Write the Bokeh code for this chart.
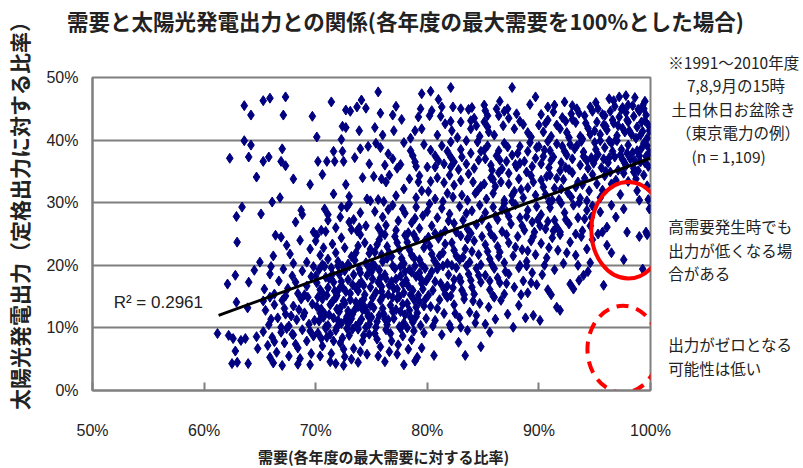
import math
from bokeh.plotting import figure
from bokeh.models import Label, FixedTicker, PrintfTickFormatter, ColumnDataSource
from bokeh.embed import file_html
from bokeh.resources import INLINE

# ---------------- data (demand %, solar output %) ----------------
pts_45_50 = [(63.6,45.5),(65.3,46.3),(65.9,46.7),(67.3,46.9),(71.4,46.1),(74.1,46.4),(74.5,45.1),(73.7,45.3),
    (75.6,47.7),(79.5,47.4),(80.3,47.8),(82.1,48.4),(81.0,46.5),(81.3,45.3),(79.4,45.0),(82.3,45.3),(83.0,45.0),
    (85.1,45.6),(87.2,45.0),(87.6,48.4),(89.7,46.9),(89.2,45.7),(93.0,45.5),(93.4,45.0),(94.6,45.3),(96.3,46.6),
    (97.2,46.9),(97.8,47.1),(96.7,46.3),(99.3,45.5),(98.6,46.8),(99.5,46.2),(92.3,46.1),(95.1,46.0),(98.0,45.6),
    (86.5,46.2),(84.0,45.2),(77.2,45.4),(90.8,45.3),(97.5,45.2)]

pts_40_45 = [(64.2,44.0),(67.1,44.0),(69.7,43.8),(72.7,44.8),(73.1,44.6),(72.4,42.2),(72.7,42.0),(73.9,41.5),
    (70.1,40.5),(72.3,40.1),(80.4,44.7),(76.9,44.0),(77.7,43.3),(79.2,43.7),(80.2,43.9),(83.7,44.9),(82.1,43.0),
    (83.0,42.9),(83.9,43.1),(85.2,44.7),(85.4,43.9),(86.4,43.9),(86.9,44.6),(84.2,43.5),(84.4,42.3),(83.9,41.8),
    (85.1,42.9),(85.4,42.1),(85.5,41.3),(78.9,41.5),(79.5,41.8),(78.5,40.3),(82.2,41.5),(88.0,44.2),(88.3,43.0),
    (87.8,41.8),(88.6,42.5),(89.0,41.2),(89.3,40.5),
    (90.2,44.1),(90.8,43.2),(91.3,44.5),(91.6,42.4),(92.1,43.6),(92.5,41.2),(92.9,44.2),(93.3,42.8),(93.7,40.6),
    (94.1,43.9),(94.4,41.9),(94.8,44.6),(95.2,42.9),(95.5,40.9),(95.9,43.9),(96.1,41.6),(96.4,44.6),(96.7,42.7),
    (97.0,40.7),(97.2,43.7),(97.5,41.9),(97.8,44.4),(98.0,42.9),(98.3,40.9),(98.5,43.8),(98.8,42.1),(99.0,44.6),
    (99.3,41.4),(99.5,43.1),(99.8,42.4),(99.7,40.3),(90.4,41.3),(91.1,40.6),(93.9,40.2),(95.7,44.1),(96.9,40.1),
    (98.9,44.9),(94.2,42.7),(92.7,40.4),(97.7,41.3),(96.0,42.2),(98.1,41.5),(99.1,40.8),(95.0,41.5),(93.0,43.3),
    (91.9,41.8),(90.6,42.7),(97.4,44.9),(99.6,44.0),(96.6,43.2),
    (75.3,42.0),(76.0,40.8),(77.0,41.5),(75.8,44.3),(80.9,40.8),(81.6,42.6),(82.7,40.4),(81.2,43.8),(84.7,40.6),
    (86.0,40.8),(86.8,42.3),(87.3,43.5),(86.2,45.0)]

pts_35_40 = [(63.6,39.9),(64.2,39.2),(67.0,38.6),(62.3,37.1),(64.0,37.3),(65.3,36.6),(65.8,37.3),(66.9,36.6),
    (67.3,35.9),(70.2,36.6),(71.0,36.6),(71.7,36.6),(72.5,36.6),(73.5,37.2),(71.6,38.2),(72.4,38.2),(74.0,38.6),
    (74.7,39.0),(74.8,36.2),
    (76.5,37.8),(78.5,38.3),(78.7,37.5),(77.6,36.1),(77.3,35.5),(79.7,39.3),(75.4,39.5),(76.2,36.0),(79.0,35.8),
    (75.8,38.8),(77.9,39.6),(78.9,36.5),(76.9,37.0),
    (80.7,37.5),(81.0,36.7),(80.7,35.7),(81.5,36.2),(82.1,37.3),(82.1,35.7),(82.4,36.5),(80.0,35.7),(82.1,39.7),
    (81.3,39.1),(83.5,39.9),(84.5,39.7),(83.1,37.3),(83.5,36.2),(83.9,37.9),(84.2,35.5),(84.6,36.8),(83.0,38.5),
    (80.3,38.4),(81.8,38.2),(84.8,38.2),(82.8,35.3),
    (85.4,39.1),(86.4,38.3),(87.2,38.9),(85.2,37.0),(85.7,36.0),(86.2,37.5),(86.7,35.4),(87.1,36.6),(87.6,37.6),
    (88.0,35.7),(88.3,39.0),(88.7,36.6),(89.0,38.2),(89.4,35.8),(89.7,37.1),(85.8,35.2),(86.9,39.5),(88.1,37.9),
    (89.2,39.6),(87.9,36.1),(85.1,38.4),(86.5,36.8),(89.8,38.8),
    (90.2,36.2),(90.5,38.4),(90.9,35.6),(91.3,37.3),(91.6,39.4),(92.0,36.4),(92.3,38.2),(92.7,35.3),(93.0,37.0),
    (93.4,39.1),(93.7,36.0),(94.0,38.1),(94.4,35.5),(94.7,37.2),(95.0,39.6),(90.8,39.8),(91.9,35.1),(93.2,38.6),
    (94.3,36.7),(92.5,37.6),(90.4,37.4),(94.9,36.3),(91.1,36.8),(93.8,39.8),(92.8,39.3),
    (95.3,37.7),(95.6,35.6),(95.9,38.8),(96.2,36.4),(96.5,39.5),(96.8,37.3),(97.1,35.2),(97.4,38.5),(97.7,36.3),
    (98.0,39.2),(98.2,37.0),(98.5,35.5),(98.8,38.3),(99.1,36.5),(99.4,39.5),(99.6,37.4),(99.8,35.8),(95.5,39.9),
    (96.0,35.0),(97.0,39.9),(97.9,37.9),(98.6,36.7),(99.2,38.7),(96.6,38.2),(95.8,37.0),(99.7,39.1),(97.5,36.9),
    (98.9,35.1)]

pts_30_35 = [(64.7,34.1),(66.1,30.1),(66.8,30.8),(69.5,32.9),(72.7,32.9),(71.6,31.4),(74.2,34.0),(74.6,30.6),
    (68.0,33.8),(70.6,34.5),(73.0,31.0),
    (75.2,34.2),(75.9,33.8),(76.3,33.3),(76.6,34.4),(77.9,32.2),(79.3,34.3),(79.2,33.3),(79.5,31.9),(74.9,30.3),
    (75.6,30.5),(76.1,30.2),(79.0,30.8),(77.2,31.1),(78.4,33.8),
    (80.3,33.4),(80.9,34.0),(81.5,33.2),(82.0,34.4),(82.4,32.8),(83.0,33.6),(83.7,34.6),(84.1,33.3),(84.5,31.9),
    (84.8,32.6),(84.3,31.5),(80.7,30.6),(81.4,30.2),(82.3,30.9),(83.1,31.2),(80.1,31.8),(81.8,31.5),(83.6,30.4),
    (85.7,34.0),(86.1,32.6),(86.6,33.3),(85.9,31.5),(87.3,33.0),(87.3,34.7),(87.8,31.8),(88.2,33.8),(88.6,30.8),
    (89.0,32.4),(89.3,34.3),(89.7,31.2),(85.3,30.6),(86.9,30.4),(88.4,32.1),(89.5,33.3),(86.4,34.8),(87.6,30.2),
    (85.1,33.0),(88.9,34.9),
    (90.2,33.6),(90.6,31.3),(91.0,34.4),(91.4,32.3),(91.8,30.5),(92.2,33.7),(92.6,31.6),(93.0,34.8),(93.3,32.5),
    (93.7,30.7),(94.1,33.9),(94.5,31.9),(94.8,34.5),(90.9,30.2),(92.0,32.2),(93.9,32.9),(94.3,30.3),(91.6,33.9),
    (92.9,30.9),(90.4,32.5),
    (95.2,33.0),(95.5,30.8),(95.9,34.3),(96.9,33.6),(97.6,34.7),(98.7,33.8),(99.4,34.4),(99.7,32.7),(95.7,32.0),
    (96.4,34.9),(98.5,34.9),(99.0,30.4),(97.3,31.3),(98.8,31.9),(99.8,30.5)]

pts_25_30 = [(63.4,29.3),(62.9,27.8),(65.1,28.2),(68.7,28.8),(68.8,28.1),(68.2,26.9),(71.1,28.1),(71.1,27.2),
    (72.2,27.7),(72.3,29.3),(73.0,29.8),(72.8,29.3),(73.0,26.9),(73.4,27.3),
    (70.5,25.6),(71.8,26.0),(74.0,28.4),(74.5,26.3),(69.8,25.3),(73.7,25.5),(70.8,29.0),
    (75.3,28.6),(75.6,26.0),(76.0,27.7),(76.5,28.9),(77.2,25.6),(77.4,27.1),(78.0,28.3),(78.3,25.2),(78.6,26.8),
    (79.0,29.3),(79.6,27.9),(79.3,25.9),(76.9,29.6),(75.9,25.1),(77.8,29.0),(78.9,27.5),(76.3,26.4),
    (80.0,28.6),(80.4,26.3),(80.9,27.6),(81.3,29.1),(81.6,25.5),(82.0,28.2),(82.4,26.7),(82.9,29.4),(83.2,27.2),
    (83.6,25.8),(84.0,28.7),(84.4,26.5),(84.7,29.6),(80.7,25.1),(81.9,27.1),(83.5,28.3),(84.9,27.3),(82.6,25.3),
    (80.2,29.8),(83.9,25.1),
    (85.2,28.4),(85.5,26.1),(85.9,29.3),(86.3,27.3),(86.7,25.4),(87.1,28.6),(87.5,26.6),(87.9,29.7),(88.3,27.6),
    (88.7,25.6),(89.0,28.8),(89.4,26.9),(89.8,29.4),(85.7,25.0),(86.9,29.9),(88.5,26.3),(89.6,25.3),(87.3,27.8),
    (86.1,27.9),(88.9,27.8),
    (90.2,28.1),(90.6,25.8),(91.0,29.2),(91.4,27.2),(91.9,25.3),(92.3,28.4),(92.7,26.6),(93.1,29.6),(93.5,27.6),
    (93.9,25.5),(94.3,28.8),(94.6,26.3),(90.8,27.0),(92.0,29.9),(93.3,25.0),(94.8,29.5),(91.6,26.1),(94.1,27.4),
    (95.3,25.0),(96.1,26.1),(95.7,25.3),(96.9,27.7),(97.6,29.0),(99.9,29.0),(97.9,25.3),(99.6,25.3),(95.5,28.5),
    (96.5,29.6)]

pts_20_25 = [(62.96,23.7),(65.0,20.5),(66.4,24.8),(66.9,24.5),(67.4,23.2),(67.7,21.8),(69.2,20.5),(68.6,24.0),
    (69.5,22.6),(68.0,20.3),(66.2,21.5),
    (70.1,24.8),(70.9,25.4),(70.0,23.9),(70.7,22.8),(71.5,23.4),(72.3,24.4),(73.2,25.7),(73.9,26.0),(72.6,22.8),
    (73.8,23.1),(74.4,23.6),(71.1,21.0),(72.0,20.6),(73.2,21.4),(74.5,20.4),(70.4,21.6),(74.0,24.9),(71.8,22.0),
    (72.9,20.2),(73.6,22.0),(70.6,20.1),(74.8,21.9),
    (75.3,22.1),(75.7,24.1),(76.0,20.6),(76.4,23.0),(76.8,21.4),(77.1,24.6),(77.5,22.5),(77.9,20.3),(78.2,23.7),
    (78.6,21.6),(79.0,24.2),(79.3,20.9),(79.7,22.8),(75.1,20.2),(76.2,24.9),(77.7,21.1),(78.8,24.9),(79.5,20.1),
    (76.6,22.0),(78.4,22.5),(75.9,21.7),(77.3,23.6),(79.8,23.9),(75.5,23.3),(78.0,24.8),
    (80.2,23.1),(80.6,20.8),(81.0,24.3),(81.4,22.0),(81.8,20.3),(82.2,23.6),(82.6,21.5),(83.0,24.7),(83.4,22.6),
    (83.8,20.5),(84.2,23.9),(84.6,21.7),(80.4,21.8),(81.6,23.4),(82.9,20.9),(84.0,22.2),(80.9,20.0),(83.6,24.2),
    (84.9,24.6),(81.2,24.9),(82.4,22.4),(84.8,20.1),(80.1,24.5),(83.2,21.3),
    (85.2,23.3),(85.6,21.0),(86.0,24.4),(86.5,22.1),(86.9,20.4),(87.3,23.6),(87.7,21.5),(88.1,24.6),(88.5,22.5),
    (88.9,20.6),(89.3,23.9),(89.7,21.7),(85.8,20.1),(87.1,24.9),(88.3,20.0),(89.5,24.6),(86.3,23.0),(87.9,22.9),
    (85.4,22.2),(89.0,22.3),
    (90.2,23.5),(90.7,21.2),(91.2,24.4),(91.7,22.4),(92.2,20.3),(92.8,23.7),(93.3,21.6),(93.8,24.6),(94.3,22.6),
    (94.6,20.4),(90.5,20.0),(91.9,24.9),(93.5,20.0),(94.8,24.1),(90.9,22.8),(92.5,22.0),
    (96.1,23.2),(96.5,22.0),(97.6,20.9),(99.0,24.6),(99.7,24.9)]

pts_15_20 = [(62.1,17.0),(64.0,17.3),(64.5,19.2),(68.2,17.3),(62.8,18.4),
    (65.4,16.2),(65.9,18.6),(66.3,15.4),(66.7,17.5),(67.1,19.4),(67.5,16.3),(67.9,18.3),(68.4,15.5),(68.8,19.1),
    (69.2,16.7),(69.6,18.2),(66.0,19.8),(67.3,15.1),(69.0,15.3),(69.8,19.8),
    (70.1,17.2),(70.3,19.3),(70.6,15.6),(70.9,18.1),(71.1,16.4),(71.4,19.6),(71.6,17.3),(71.9,15.2),(72.1,18.6),
    (72.4,16.5),(72.6,19.1),(72.9,17.7),(73.1,15.5),(73.4,18.5),(73.6,16.4),(73.9,19.4),(74.1,17.3),(74.4,15.3),
    (74.6,18.4),(74.9,16.5),(70.4,16.1),(71.2,17.9),(72.0,19.9),(72.7,15.8),(73.3,16.9),(74.0,18.8),(74.7,19.8),
    (70.8,19.8),(71.7,15.9),(73.8,15.9),(72.3,17.4),(70.0,18.3),(74.3,16.8),(71.5,18.6),(73.0,19.9),
    (75.1,17.8),(75.4,15.7),(75.7,19.2),(75.9,16.6),(76.2,18.5),(76.5,15.3),(76.8,17.4),(77.1,19.5),(77.3,16.2),
    (77.6,18.3),(77.9,15.6),(78.1,17.6),(78.4,19.3),(78.7,16.0),(79.0,18.2),(79.2,15.2),(79.5,17.1),(79.8,19.5),
    (75.3,19.9),(76.0,15.0),(76.6,16.8),(77.5,15.0),(78.3,16.7),(78.9,19.9),(79.6,16.2),(75.6,17.3),(76.9,19.9),
    (77.8,17.0),(78.6,18.9),(79.3,18.8),(76.3,17.9),(77.2,17.8),(75.8,18.0),(78.0,19.0),(79.9,17.5),
    (80.2,18.3),(80.5,16.0),(80.9,19.4),(81.2,17.1),(81.6,15.4),(81.9,18.5),(82.3,16.4),(82.6,19.6),(83.0,17.4),
    (83.3,15.3),(83.7,18.6),(84.0,16.5),(84.4,19.5),(84.8,17.3),(80.7,17.4),(81.4,19.9),(82.1,15.1),(82.9,18.0),
    (83.5,19.9),(84.2,15.4),(84.6,18.4),(80.1,15.2),(81.8,16.7),(83.9,17.6),(82.4,17.7),
    (85.2,18.4),(85.6,16.1),(86.0,19.5),(86.5,17.2),(86.9,15.4),(87.3,18.6),(87.8,16.5),(88.2,19.6),(88.6,17.5),
    (89.0,15.6),(89.4,18.8),(89.8,16.9),(85.9,15.1),(87.1,17.1),(88.4,15.3),(89.3,17.2),(86.3,18.0),(88.9,19.9),
    (90.3,18.5),(90.8,16.1),(91.4,19.3),(92.8,17.0),(93.6,17.6),(93.1,16.2),(94.4,19.0),(91.1,15.3),(94.0,18.4),
    (95.8,16.8),(99.3,19.4)]

pts_10_15 = [(62.9,14.1),(63.9,13.2),(65.9,14.9),(66.0,11.4),
    (65.5,12.8),(65.8,10.5),(66.3,13.7),(66.6,11.6),(67.0,14.4),(67.3,12.2),(67.6,10.3),(68.0,13.5),(68.3,11.3),
    (68.7,14.6),(69.0,12.4),(69.4,10.6),(69.7,13.8),(66.9,10.1),(68.5,12.9),(69.3,14.9),(67.8,11.9),(65.3,14.3),
    (69.9,11.2),(67.2,13.1),
    (70.1,13.4),(70.3,11.1),(70.6,14.6),(70.8,12.3),(71.1,10.4),(71.3,13.7),(71.6,11.6),(71.8,14.8),(72.1,12.6),
    (72.3,10.7),(72.6,13.9),(72.8,11.8),(73.1,14.5),(73.3,12.2),(73.6,10.3),(73.8,13.4),(74.1,11.4),(74.3,14.6),
    (74.6,12.5),(74.8,10.6),(70.4,12.4),(70.9,10.2),(71.5,14.2),(72.0,11.2),(72.5,14.3),(73.0,10.9),(73.5,12.9),
    (74.0,14.0),(74.5,10.1),(74.9,13.6),(70.2,14.9),(71.2,12.1),(72.2,13.2),(73.2,11.5),(74.2,12.9),(71.9,10.1),
    (73.9,10.8),(70.7,11.7),(72.9,12.7),(74.7,11.9),
    (75.2,13.2),(75.5,11.0),(75.8,14.4),(76.1,12.2),(76.4,10.5),(76.7,13.6),(77.0,11.5),(77.3,14.7),(77.6,12.6),
    (77.9,10.8),(78.2,13.9),(78.5,11.7),(78.8,14.5),(79.1,12.4),(79.4,10.4),(79.7,13.5),(75.4,10.1),(76.0,13.1),
    (76.9,14.9),(77.5,10.2),(78.0,12.1),(78.7,10.9),(79.3,14.2),(79.9,11.5),(75.7,12.0),(76.5,11.3),(77.2,12.9),
    (78.4,12.8),(79.0,13.3),(75.1,14.8),
    (80.3,13.4),(80.7,11.2),(81.1,14.5),(81.5,12.3),(82.0,10.5),(82.4,13.7),(82.9,11.6),(83.3,14.6),(83.8,12.5),
    (84.3,10.8),(84.7,13.9),(80.5,10.3),(81.8,14.9),(83.0,10.1),(84.1,14.3),
    (85.5,13.3),(86.1,11.4),(86.6,14.4),(87.2,12.2),(87.7,10.1),(88.2,13.6),(88.8,11.6),(89.5,12.0),(86.0,14.9),
    (85.2,10.6),
    (90.1,11.2),(91.9,12.8),(91.6,13.3)]

pts_05_10 = [(61.2,9.1),(62.2,8.8),(62.6,8.3),(63.3,8.0),(63.7,8.3),(62.8,6.3),(64.7,8.6),(64.8,6.7),
    (65.3,9.4),(65.7,7.2),(66.1,8.5),(66.5,6.1),(66.9,9.3),(67.2,7.6),(67.6,5.5),(68.0,8.9),(68.4,6.8),(68.8,9.7),
    (69.2,7.9),(69.6,5.9),(65.9,5.3),(67.4,9.9),(68.6,5.1),(69.8,8.7),(66.3,7.8),(68.2,7.4),
    (70.2,9.2),(70.6,7.1),(71.0,8.5),(71.4,5.9),(71.8,9.6),(72.2,7.6),(72.6,5.4),(73.0,8.8),(73.4,6.7),(73.8,9.8),
    (74.2,7.9),(74.6,5.8),(70.4,5.5),(71.6,7.9),(72.8,9.9),(74.0,6.2),(74.8,9.0),(70.9,9.9),(73.2,5.0),(72.4,8.4),
    (75.3,9.1),(75.8,7.0),(76.3,9.7),(76.8,7.9),(77.3,5.8),(77.8,8.7),(78.3,6.6),(78.8,9.5),(79.1,5.3),(79.5,6.8),
    (75.6,5.5),(76.6,6.2),(77.6,9.9),(78.6,8.1),(79.7,9.2),
    (80.6,5.6),(82.1,10.0),(83.6,9.6),(82.8,7.7),(83.4,5.6),(84.8,7.0),(81.3,8.9),(85.6,9.3)]

pts_00_05 = [(62.5,4.3),(62.97,4.5),(63.95,4.3),(66.2,4.4),(67.0,4.0),(68.4,4.2),(69.5,4.1),(71.3,4.6),
    (71.8,4.3),(72.5,4.0),(73.8,4.5),(76.2,4.6),(77.9,4.1),(78.9,4.7)]

pts_dense_low = [(67.9,9.0),(68.9,11.9),(69.5,9.5),(70.5,8.3),(70.5,13.0),(71.0,15.2),(71.3,9.0),(71.9,13.0),
    (72.1,16.2),(72.5,6.6),(72.7,11.3),(73.3,9.8),(73.6,14.1),(73.9,17.0),(74.3,8.8),(74.4,13.3),(75.0,11.7),
    (75.0,19.0),(75.5,8.2),(75.9,15.8),(76.2,11.4),(76.7,9.1),(76.9,12.6),(77.0,16.3),(77.4,7.3),(77.8,13.8),
    (78.2,10.0),(78.5,15.3),(79.0,11.8),(79.4,17.9),(79.8,14.5),(72.4,19.9),(73.5,20.8),(74.9,22.6),(76.4,21.1),
    (77.6,19.8),(78.8,21.2),(80.4,19.0),(81.1,21.5),(80.9,13.1),(81.5,16.2),(82.5,12.3),(83.1,16.0),(82.2,20.0),
    (84.4,12.0),(85.6,17.5),(87.0,19.0),(86.4,21.4)]

pts_dense_high = [(90.0,42.4),(91.4,45.6),(92.4,43.0),(93.6,44.3),(94.6,40.9),(95.3,45.0),(95.8,42.4),(96.3,39.9),
    (96.8,45.4),(97.1,42.3),(97.9,43.2),(98.4,45.5),(98.7,40.3),(99.2,42.9),(99.4,45.0),(99.9,41.5),(99.9,38.0),
    (99.5,36.4),(98.4,38.0),(97.3,37.6),(96.3,37.2),(95.1,38.5),(94.0,37.4),(92.1,39.0),(91.0,38.3),(90.0,39.0),
    (90.7,34.2),(92.4,35.6),(93.5,33.3),(95.0,36.9),(96.5,33.0),(97.8,35.9),(98.0,33.4),(99.0,37.5),(89.9,27.3),
    (91.2,30.4),(92.4,27.3),(93.6,30.0),(94.7,27.7),(91.3,25.5),(90.1,26.3),(87.6,31.2),(86.7,28.9),(85.9,33.7),
    (88.3,36.3)]

bands = [pts_45_50, pts_40_45, pts_35_40, pts_30_35, pts_25_30, pts_20_25,
         pts_15_20, pts_10_15, pts_05_10, pts_00_05, pts_dense_low, pts_dense_high]
demand = [p[0] for b in bands for p in b]
solar = [p[1] for b in bands for p in b]

# regression line end points
trend_x = [61.3, 100.0]
trend_y = [12.0, 37.1]

x_ticks = [50, 60, 70, 80, 90, 100]
y_ticks = [0, 10, 20, 30, 40, 50]

# ---------------- figure ----------------
JP = "Noto Sans CJK JP"
NUM = "Liberation Sans"
GRID = "#7f7f7f"
TXT = "#222222"

p = figure(width=803, height=468, x_range=(50, 100), y_range=(0, 50),
           output_backend="svg", toolbar_location=None,
           min_border_left=92, min_border_right=153, min_border_top=77, min_border_bottom=78)
p.title.visible = False
p.background_fill_color = "white"
p.border_fill_color = "white"
p.outline_line_color = GRID
p.outline_line_width = 2

p.xaxis.ticker = FixedTicker(ticks=x_ticks)
p.yaxis.ticker = FixedTicker(ticks=y_ticks)
p.xaxis.formatter = PrintfTickFormatter(format="%d%%")
p.yaxis.formatter = PrintfTickFormatter(format="%d%%")
for ax in (p.xaxis, p.yaxis):
    ax.axis_line_color = GRID
    ax.axis_line_width = 2
    ax.major_tick_line_color = GRID
    ax.major_tick_line_width = 2
    ax.minor_tick_line_color = None
    ax.major_label_text_font = NUM
    ax.major_label_text_font_size = "16px"
    ax.major_label_text_color = TXT
p.xaxis.major_tick_in = 8
p.xaxis.major_tick_out = 0
p.xaxis.major_label_standoff = 31
p.yaxis.major_tick_in = 0
p.yaxis.major_tick_out = 0
p.yaxis.major_label_standoff = 14

p.xgrid.grid_line_color = None
p.ygrid.ticker = FixedTicker(ticks=y_ticks)
p.ygrid.grid_line_color = GRID
p.ygrid.grid_line_width = 2

src = ColumnDataSource(dict(demand=demand, solar=solar))
p.scatter("demand", "solar", source=src, marker="diamond", size=10,
          fill_color="#000080", line_color="#000080", line_width=1)

p.line(trend_x, trend_y, line_color="black", line_width=3)

# red highlight ellipses
p.ellipse(x=[98.0], y=[25.6], width=6.6, height=15.4, fill_color=None,
          line_color="#ff0000", line_width=4)
p.ellipse(x=[97.55], y=[6.6], width=6.4, height=13.9, fill_color=None,
          line_color="#ff0000", line_width=4, line_dash="12 8")

# R^2 text inside the plot area
p.add_layout(Label(x=51.9, y=14.0, text="R² = 0.2961", text_font=NUM, text_font_size="17px",
                   text_align="left", text_baseline="middle", text_color=TXT))

# texts outside the plot area live in the side panels (not clipped)
p.add_layout(Label(x=78.05, y=59.1, text="需要と太陽光発電出力との関係(各年度の最大需要を100%とした場合)",
                   text_font=JP, text_font_size="21.5px", text_font_style="bold",
                   text_align="center", text_baseline="middle", text_color=TXT), "above")
p.add_layout(Label(x=43.37, y=28.75, text="太陽光発電出力（定格出力に対する比率）", angle=math.pi / 2,
                   text_font=JP, text_font_size="21px", text_font_style="bold",
                   text_align="center", text_baseline="middle", text_color=TXT), "left")
p.add_layout(Label(x=76.08, y=-10.6, text="需要(各年度の最大需要に対する比率)",
                   text_font=JP, text_font_size="15px", text_font_style="bold",
                   text_align="center", text_baseline="middle", text_color=TXT), "below")

EN, TH, IDEO = "\u2002", "\u2009", "\u3000"
side_lines = ["※1991～2010年度",
              EN + EN + TH + "7,8,9月の15時",
              TH + "土日休日お盆除き",
              EN + "（東京電力の例）",
              IDEO + EN + "(n = 1,109)",
              " ", " ",
              "高需要発生時でも", "出力が低くなる場", "合がある",
              " ", " ",
              "出力がゼロとなる", "可能性は低い"]
p.add_layout(Label(x=101.6, y=54.3, text="\n".join(side_lines),
                   text_font=JP, text_font_size="15.5px", text_line_height=1.07,
                   text_align="left", text_baseline="top", text_color=TXT), "right")

open("out.html", "w").write(file_html(p, INLINE))
